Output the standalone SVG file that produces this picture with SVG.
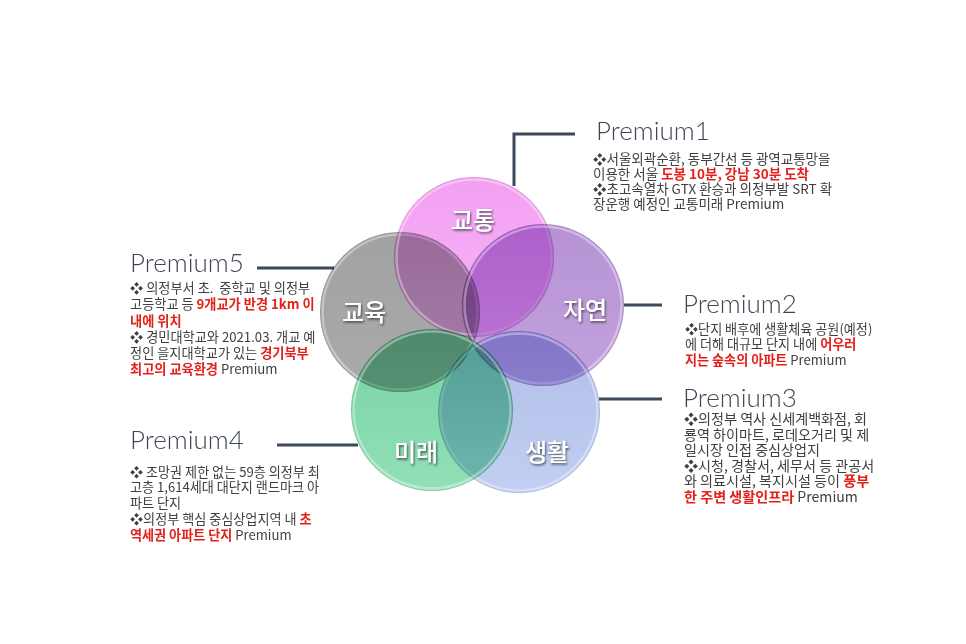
<svg xmlns="http://www.w3.org/2000/svg" width="966" height="644" viewBox="0 0 966 644">
<style>
.title{font-family:Lato,"Open Sans","Noto Sans",sans-serif;font-weight:300;font-size:26px;fill:#3f4756}
.body{font-family:"Noto Sans CJK KR","Noto Sans",sans-serif;fill:#404040}
.red{fill:#e3201b;font-weight:700}
.conn{fill:none;stroke:#3d4859;stroke-width:3}
.circ{mix-blend-mode:multiply}
.rim{fill:none;stroke:#ffffff;stroke-opacity:0.35;stroke-width:2.5}
.edge{fill:none;stroke:#000000;stroke-opacity:0.07;stroke-width:1.5}
.lbl{font-family:"Noto Sans CJK KR",sans-serif;font-weight:500;font-size:24px;fill:#ffffff;text-anchor:middle;filter:url(#shadow)}
</style>
<defs>
<filter id="shadow" x="-20%" y="-20%" width="140%" height="150%">
<feDropShadow dx="1" dy="1.5" stdDeviation="0.8" flood-color="#2a2a2a" flood-opacity="0.8"/>
</filter>
<linearGradient id="gPink" x1="0" y1="0" x2="0" y2="1"><stop offset="0" stop-color="#f2a0f2"/><stop offset="1" stop-color="#f7b6f7"/></linearGradient>
<linearGradient id="gPurple" x1="0" y1="0" x2="0" y2="1"><stop offset="0" stop-color="#b692d4"/><stop offset="1" stop-color="#c2a2dc"/></linearGradient>
<linearGradient id="gGray" x1="0" y1="0" x2="0" y2="1"><stop offset="0" stop-color="#a2a2a2"/><stop offset="1" stop-color="#aaaaaa"/></linearGradient>
<linearGradient id="gGreen" x1="0" y1="0" x2="0" y2="1"><stop offset="0" stop-color="#76d2a3"/><stop offset="1" stop-color="#92e0b8"/></linearGradient>
<linearGradient id="gBlue" x1="0" y1="0" x2="0" y2="1"><stop offset="0" stop-color="#b0bee9"/><stop offset="1" stop-color="#c2cff2"/></linearGradient>
</defs>
<rect width="966" height="644" fill="#ffffff"/>

<g id="connectors">
<polyline class="conn" points="575,134 514,134 514,186"/>
<line class="conn" x1="624" y1="305" x2="662" y2="305"/>
<line class="conn" x1="599" y1="399" x2="662" y2="399"/>
<line class="conn" x1="277" y1="445" x2="358" y2="445"/>
<line class="conn" x1="257" y1="268" x2="334" y2="268"/>
</g>

<g id="node-education">
<circle class="circ" cx="400" cy="312" r="80" fill="url(#gGray)"/>
<circle class="rim" cx="400" cy="312" r="77.5"/>
<circle class="edge" cx="400" cy="312" r="79.5"/>
<text class="lbl" x="364" y="321">교육</text>
</g>
<g id="node-traffic">
<circle class="circ" cx="474" cy="257" r="80" fill="url(#gPink)"/>
<circle class="rim" cx="474" cy="257" r="77.5"/>
<circle class="edge" cx="474" cy="257" r="79.5"/>
<text class="lbl" x="473" y="229">교통</text>
</g>
<g id="node-nature">
<circle class="circ" cx="543" cy="305" r="81" fill="url(#gPurple)"/>
<circle class="rim" cx="543" cy="305" r="78.5"/>
<circle class="edge" cx="543" cy="305" r="80.5"/>
<text class="lbl" x="585" y="319">자연</text>
</g>
<g id="node-life">
<circle class="circ" cx="519" cy="412" r="81" fill="url(#gBlue)"/>
<circle class="rim" cx="519" cy="412" r="78.5"/>
<circle class="edge" cx="519" cy="412" r="80.5"/>
<text class="lbl" x="547" y="461">생활</text>
</g>
<g id="node-future">
<circle class="circ" cx="432" cy="410" r="81" fill="url(#gGreen)"/>
<circle class="rim" cx="432" cy="410" r="78.5"/>
<circle class="edge" cx="432" cy="410" r="80.5"/>
<text class="lbl" x="416" y="461">미래</text>
</g>

<g id="premium1">
<text class="title" x="596" y="140">Premium1</text>
<text class="body" font-size="13.5">
<tspan x="593" y="164">❖서울외곽순환, 동부간선 등 광역교통망을</tspan>
<tspan x="593" y="179">이용한 서울 <tspan class="red">도봉 10분, 강남 30분 도착</tspan></tspan>
<tspan x="593" y="194">❖초고속열차 GTX 환승과 의정부발 SRT 확</tspan>
<tspan x="593" y="209">장운행 예정인 교통미래 Premium</tspan>
</text>
</g>

<g id="premium2">
<text class="title" x="683" y="313">Premium2</text>
<text class="body" font-size="13.1">
<tspan x="685" y="334">❖단지 배후에 생활체육 공원(예정)</tspan>
<tspan x="685" y="349">에 더해 대규모 단지 내에 <tspan class="red">어우러</tspan></tspan>
<tspan x="685" y="365"><tspan class="red">지는 숲속의 아파트</tspan> Premium</tspan>
</text>
</g>

<g id="premium3">
<text class="title" x="683" y="407">Premium3</text>
<text class="body" font-size="14.1">
<tspan x="684" y="424">❖의정부 역사 신세계백화점, 회</tspan>
<tspan x="684" y="440">룡역 하이마트, 로데오거리 및 제</tspan>
<tspan x="684" y="455">일시장 인접 중심상업지</tspan>
<tspan x="684" y="471">❖시청, 경찰서, 세무서 등 관공서</tspan>
<tspan x="684" y="486">와 의료시설, 복지시설 등이 <tspan class="red">풍부</tspan></tspan>
<tspan x="684" y="502"><tspan class="red">한 주변 생활인프라</tspan> Premium</tspan>
</text>
</g>

<g id="premium4">
<text class="title" x="130" y="449">Premium4</text>
<text class="body" font-size="13.1">
<tspan x="130" y="477">❖ 조망권 제한 없는 59층 의정부 최</tspan>
<tspan x="130" y="492">고층 1,614세대 대단지 랜드마크 아</tspan>
<tspan x="130" y="508">파트 단지</tspan>
<tspan x="130" y="524">❖의정부 핵심 중심상업지역 내 <tspan class="red">초</tspan></tspan>
<tspan x="130" y="540"><tspan class="red">역세권 아파트 단지</tspan> Premium</tspan>
</text>
</g>

<g id="premium5">
<text class="title" x="130" y="272">Premium5</text>
<text class="body" font-size="13.2">
<tspan x="130" y="293">❖ 의정부서 초.&#160; 중학교 및 의정부</tspan>
<tspan x="130" y="309">고등학교 등 <tspan class="red">9개교가 반경 1km 이</tspan></tspan>
<tspan x="130" y="326"><tspan class="red">내에 위치</tspan></tspan>
<tspan x="130" y="342">❖ 경민대학교와 2021.03. 개교 예</tspan>
<tspan x="130" y="358">정인 을지대학교가 있는 <tspan class="red">경기북부</tspan></tspan>
<tspan x="130" y="374"><tspan class="red">최고의 교육환경</tspan> Premium</tspan>
</text>
</g>
</svg>
